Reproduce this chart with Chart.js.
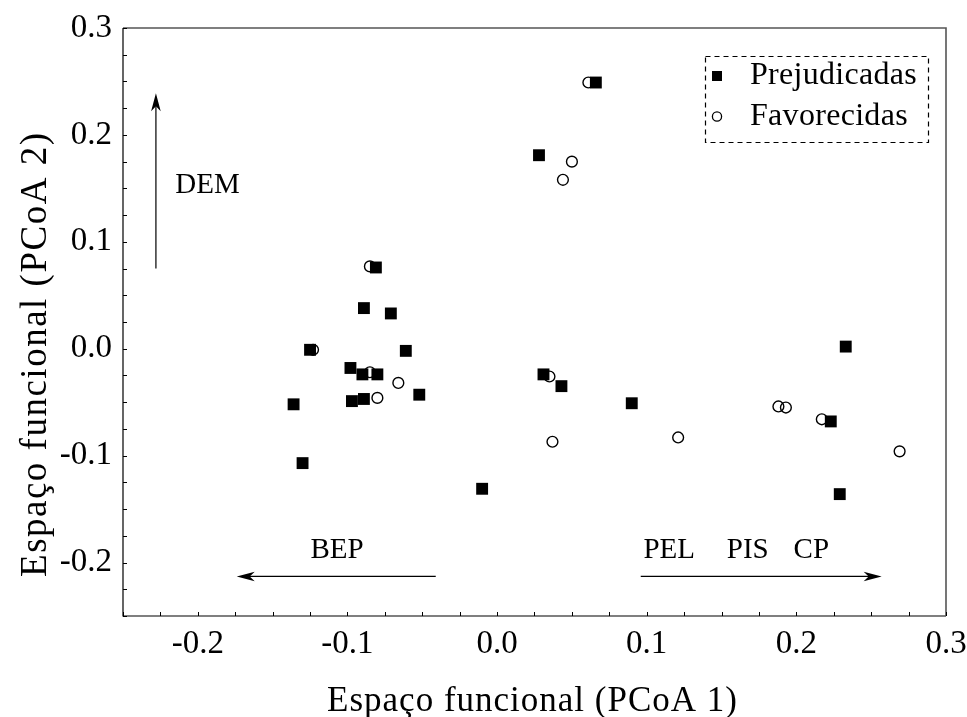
<!DOCTYPE html>
<html>
<head>
<meta charset="utf-8">
<script src="https://cdn.jsdelivr.net/npm/chart.js@4.4.1/dist/chart.umd.min.js"></script>
<style>
  html, body { margin: 0; padding: 0; background: #fff; }
  #wrap { width: 967px; height: 717px; }
</style>
</head>
<body>
<div id="wrap"><canvas id="c" width="967" height="717"></canvas></div>
<script>
// PCoA scores of the species groups
const seriesNames = ['Prejudicadas', 'Favorecidas'];

const prejudicadasX = [0.066, 0.028, -0.081, -0.089, -0.071, -0.125, -0.061, -0.098, -0.090, -0.080, -0.052,
                       -0.136, -0.097, -0.089, -0.130, 0.031, 0.043, 0.090, -0.010, 0.233, 0.223, 0.229];
const prejudicadasY = [0.249, 0.181, 0.076, 0.038, 0.033, -0.001, -0.002, -0.018, -0.024, -0.024, -0.043,
                       -0.052, -0.049, -0.047, -0.107, -0.024, -0.035, -0.051, -0.131, 0.002, -0.068, -0.136];

const favorecidasX = [0.061, 0.050, 0.044, -0.085, -0.123, -0.085, -0.066, -0.080, 0.035, 0.037, 0.121,
                      0.188, 0.193, 0.217, 0.269];
const favorecidasY = [0.249, 0.175, 0.158, 0.077, -0.001, -0.022, -0.032, -0.046, -0.026, -0.087, -0.083,
                      -0.054, -0.055, -0.066, -0.096];

// axis ranges and labelled ticks
const xRange = [-0.25, 0.3];
const yRange = [-0.25, 0.3];
const xTickValues = [-0.2, -0.1, 0.0, 0.1, 0.2, 0.3];
const yTickValues = [-0.2, -0.1, 0.0, 0.1, 0.2, 0.3];
const minorStep = 0.025;

const axisTitles = ['Espaço funcional (PCoA 1)', 'Espaço funcional (PCoA 2)'];

// trait vectors: [x0, y0, x1, y1] in score units, arrow head at (x1, y1)
const vectorLines = [
  [-0.228, 0.075, -0.228, 0.239],
  [-0.041, -0.213, -0.174, -0.213],
  [0.096, -0.213, 0.257, -0.213]
];
const vectorNames = ['DEM', 'BEP', 'PEL', 'PIS', 'CP'];
const vectorNameX = [-0.215, -0.107, 0.115, 0.1675, 0.210];
const vectorNameY = [0.153, -0.189, -0.189, -0.189, -0.189];
const vectorNameAlign = ['left', 'center', 'center', 'center', 'center'];

const serif = "'Liberation Serif', 'Times New Roman', Times, serif";

function pairs(xs, ys) { return xs.map((x, i) => ({ x: x, y: ys[i] })); }

function arrowHead(ctx, x, y, angle) {
  ctx.save();
  ctx.translate(x, y);
  ctx.rotate(angle);
  ctx.beginPath();
  ctx.moveTo(0, 0);
  ctx.lineTo(-18, -4.8);
  ctx.lineTo(-13, 0);
  ctx.lineTo(-18, 4.8);
  ctx.closePath();
  ctx.fill();
  ctx.restore();
}

function spacedText(ctx, text, x, y, spacing) {
  if (spacing && 'letterSpacing' in ctx) {
    ctx.letterSpacing = spacing + 'px';
    const shift = ctx.textAlign === 'center' ? spacing / 2 : 0;
    ctx.fillText(text, x + shift, y);
    ctx.letterSpacing = '0px';
  } else {
    ctx.fillText(text, x, y);
  }
}

const decorPlugin = {
  id: 'decor',
  afterDatasetsDraw(chart) {
    const { ctx, chartArea: a, scales: { x, y } } = chart;
    ctx.save();
    // frame: left and bottom black, top and right grey
    ctx.lineWidth = 1.2;
    ctx.strokeStyle = '#000';
    ctx.beginPath();
    ctx.moveTo(a.left, a.top);
    ctx.lineTo(a.left, a.bottom);
    ctx.lineTo(a.right, a.bottom);
    ctx.stroke();
    ctx.strokeStyle = '#555';
    ctx.lineWidth = 1.6;
    ctx.beginPath();
    ctx.moveTo(a.left, a.top);
    ctx.lineTo(a.right, a.top);
    ctx.lineTo(a.right, a.bottom);
    ctx.stroke();

    // inward tick marks
    ctx.strokeStyle = '#000';
    ctx.lineWidth = 1;
    ctx.beginPath();
    for (let v = xRange[0]; v <= xRange[1] + 1e-9; v += minorStep) {
      const px = Math.round(x.getPixelForValue(v)) + 0.5;
      ctx.moveTo(px, a.bottom);
      ctx.lineTo(px, a.bottom - 4);
    }
    for (let v = yRange[0]; v <= yRange[1] + 1e-9; v += minorStep) {
      const py = Math.round(y.getPixelForValue(v)) + 0.5;
      ctx.moveTo(a.left, py);
      ctx.lineTo(a.left + 4, py);
    }
    ctx.stroke();

    // trait vectors
    ctx.fillStyle = '#000';
    ctx.lineWidth = 1.2;
    vectorLines.forEach(([x0, y0, x1, y1]) => {
      const p0 = [x.getPixelForValue(x0), y.getPixelForValue(y0)];
      const p1 = [x.getPixelForValue(x1), y.getPixelForValue(y1)];
      const ang = Math.atan2(p1[1] - p0[1], p1[0] - p0[0]);
      ctx.beginPath();
      ctx.moveTo(p0[0], p0[1]);
      ctx.lineTo(p1[0] - 10 * Math.cos(ang), p1[1] - 10 * Math.sin(ang));
      ctx.stroke();
      arrowHead(ctx, p1[0], p1[1], ang);
    });
    ctx.font = '29px ' + serif;
    ctx.textBaseline = 'middle';
    vectorNames.forEach((t, i) => {
      ctx.textAlign = vectorNameAlign[i];
      ctx.fillText(t, x.getPixelForValue(vectorNameX[i]), y.getPixelForValue(vectorNameY[i]));
    });

    // legend box
    ctx.setLineDash([5, 4]);
    ctx.lineWidth = 1.2;
    ctx.strokeStyle = '#000';
    ctx.strokeRect(705.5, 56.5, 223, 86);
    ctx.setLineDash([]);
    ctx.fillRect(712, 71, 10, 10);
    ctx.beginPath();
    ctx.arc(717, 116.5, 4.6, 0, Math.PI * 2);
    ctx.lineWidth = 1.3;
    ctx.stroke();
    ctx.font = '32px ' + serif;
    ctx.textAlign = 'left';
    spacedText(ctx, chart.data.datasets[0].label, 750, 76, 0.3);
    spacedText(ctx, chart.data.datasets[1].label, 750, 117, 0.3);

    // axis titles
    ctx.font = '35px ' + serif;
    ctx.textAlign = 'center';
    ctx.textBaseline = 'alphabetic';
    spacedText(ctx, axisTitles[0], 532, 711, 1);
    ctx.save();
    ctx.translate(46, 355);
    ctx.rotate(-Math.PI / 2);
    ctx.font = '37px ' + serif;
    spacedText(ctx, axisTitles[1], 0, 0, 1.5);
    ctx.restore();
    ctx.restore();
  }
};

const tickFont = { family: serif, size: 33, lineHeight: 1.2 };

new Chart(document.getElementById('c'), {
  type: 'scatter',
  data: {
    datasets: [
      {
        label: seriesNames[0],
        data: pairs(prejudicadasX, prejudicadasY),
        pointStyle: 'rect',
        pointRadius: 8.4,
        pointHoverRadius: 8.4,
        backgroundColor: '#000',
        borderColor: '#000',
        borderWidth: 0
      },
      {
        label: seriesNames[1],
        data: pairs(favorecidasX, favorecidasY),
        pointStyle: 'circle',
        pointRadius: 5.4,
        pointHoverRadius: 5.4,
        backgroundColor: 'rgba(255,255,255,0)',
        borderColor: '#000',
        borderWidth: 1.4
      }
    ]
  },
  options: {
    responsive: false,
    devicePixelRatio: 1,
    animation: false,
    events: [],
    layout: { padding: { left: 0, top: 28, right: 21, bottom: 0 } },
    plugins: { legend: { display: false }, tooltip: { enabled: false } },
    scales: {
      x: {
        type: 'linear',
        min: xRange[0],
        max: xRange[1],
        grid: { display: false, drawTicks: false },
        border: { display: false },
        afterBuildTicks: s => { s.ticks = xTickValues.map(v => ({ value: v })); },
        afterFit: s => { s.height = 101; s.paddingLeft = 0; s.paddingRight = 0; },
        ticks: {
          color: '#000',
          font: tickFont,
          padding: 9,
          maxRotation: 0,
          callback: v => Number(v).toFixed(1)
        }
      },
      y: {
        type: 'linear',
        min: yRange[0],
        max: yRange[1],
        grid: { display: false, drawTicks: false },
        border: { display: false },
        afterBuildTicks: s => { s.ticks = yTickValues.map(v => ({ value: v })); },
        afterFit: s => { s.width = 123; s.paddingTop = 0; s.paddingBottom = 0; },
        ticks: {
          color: '#000',
          font: tickFont,
          padding: 11,
          callback: v => Number(v).toFixed(1)
        }
      }
    }
  },
  plugins: [decorPlugin]
});
</script>
</body>
</html>
